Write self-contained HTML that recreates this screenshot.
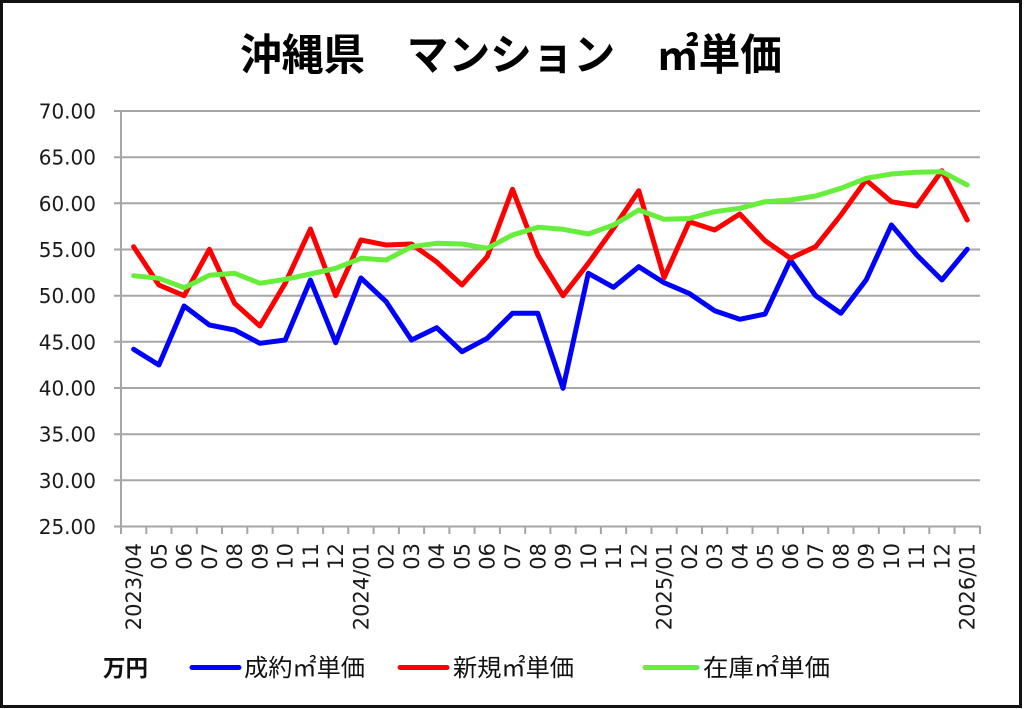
<!DOCTYPE html>
<html><head><meta charset="utf-8"><style>
html,body{margin:0;padding:0;background:#fff;}
svg{display:block;}
</style></head><body>
<svg width="1024" height="709" viewBox="0 0 1024 709" xmlns="http://www.w3.org/2000/svg">
<rect x="0" y="0" width="1024" height="709" fill="#fff"/>
<rect x="1.5" y="1.5" width="1019" height="705" fill="none" stroke="#111" stroke-width="3"/>
<text x="240" y="70" font-family="'Liberation Sans','Noto Sans CJK JP',sans-serif" font-weight="bold" font-size="43" fill="#000" textLength="542" lengthAdjust="spacingAndGlyphs">沖縄県　マンション　㎡単価</text>
<g stroke="#a6a6a6" stroke-width="2" fill="none">
<line x1="114" y1="111" x2="980" y2="111"/>
<line x1="114" y1="157.2" x2="980" y2="157.2"/>
<line x1="114" y1="203.3" x2="980" y2="203.3"/>
<line x1="114" y1="249.5" x2="980" y2="249.5"/>
<line x1="114" y1="295.7" x2="980" y2="295.7"/>
<line x1="114" y1="341.8" x2="980" y2="341.8"/>
<line x1="114" y1="388" x2="980" y2="388"/>
<line x1="114" y1="434.2" x2="980" y2="434.2"/>
<line x1="114" y1="480.3" x2="980" y2="480.3"/>
<line x1="114" y1="526.5" x2="980" y2="526.5"/>
<line x1="121" y1="111" x2="121" y2="526.5"/>
</g>
<g stroke="#a6a6a6" stroke-width="2" id="ticks">
<line x1="121" y1="526" x2="121" y2="534"/><line x1="146.3" y1="526" x2="146.3" y2="534"/><line x1="171.5" y1="526" x2="171.5" y2="534"/><line x1="196.8" y1="526" x2="196.8" y2="534"/><line x1="222" y1="526" x2="222" y2="534"/><line x1="247.3" y1="526" x2="247.3" y2="534"/><line x1="272.6" y1="526" x2="272.6" y2="534"/><line x1="297.8" y1="526" x2="297.8" y2="534"/><line x1="323.1" y1="526" x2="323.1" y2="534"/><line x1="348.3" y1="526" x2="348.3" y2="534"/><line x1="373.6" y1="526" x2="373.6" y2="534"/><line x1="398.9" y1="526" x2="398.9" y2="534"/><line x1="424.1" y1="526" x2="424.1" y2="534"/><line x1="449.4" y1="526" x2="449.4" y2="534"/><line x1="474.6" y1="526" x2="474.6" y2="534"/><line x1="499.9" y1="526" x2="499.9" y2="534"/><line x1="525.2" y1="526" x2="525.2" y2="534"/><line x1="550.4" y1="526" x2="550.4" y2="534"/><line x1="575.7" y1="526" x2="575.7" y2="534"/><line x1="600.9" y1="526" x2="600.9" y2="534"/><line x1="626.2" y1="526" x2="626.2" y2="534"/><line x1="651.5" y1="526" x2="651.5" y2="534"/><line x1="676.7" y1="526" x2="676.7" y2="534"/><line x1="702" y1="526" x2="702" y2="534"/><line x1="727.2" y1="526" x2="727.2" y2="534"/><line x1="752.5" y1="526" x2="752.5" y2="534"/><line x1="777.8" y1="526" x2="777.8" y2="534"/><line x1="803" y1="526" x2="803" y2="534"/><line x1="828.3" y1="526" x2="828.3" y2="534"/><line x1="853.5" y1="526" x2="853.5" y2="534"/><line x1="878.8" y1="526" x2="878.8" y2="534"/><line x1="904.1" y1="526" x2="904.1" y2="534"/><line x1="929.3" y1="526" x2="929.3" y2="534"/><line x1="954.6" y1="526" x2="954.6" y2="534"/><line x1="980" y1="526" x2="980" y2="534"/>
</g>
<g font-family="'DejaVu Sans',sans-serif" font-size="20" fill="#1a1a1a" text-anchor="end">
<text x="96" y="118.5">70.00</text>
<text x="96" y="164.7">65.00</text>
<text x="96" y="210.8">60.00</text>
<text x="96" y="257">55.00</text>
<text x="96" y="303.2">50.00</text>
<text x="96" y="349.3">45.00</text>
<text x="96" y="395.5">40.00</text>
<text x="96" y="441.7">35.00</text>
<text x="96" y="487.8">30.00</text>
<text x="96" y="534">25.00</text>
</g>
<g font-family="'DejaVu Sans',sans-serif" font-size="21" fill="#1a1a1a" text-anchor="end">
<text transform="translate(141.1,543) rotate(-90)">2023/04</text>
<text transform="translate(166.4,543) rotate(-90)">05</text>
<text transform="translate(191.6,543) rotate(-90)">06</text>
<text transform="translate(216.9,543) rotate(-90)">07</text>
<text transform="translate(242.1,543) rotate(-90)">08</text>
<text transform="translate(267.4,543) rotate(-90)">09</text>
<text transform="translate(292.7,543) rotate(-90)">10</text>
<text transform="translate(317.9,543) rotate(-90)">11</text>
<text transform="translate(343.2,543) rotate(-90)">12</text>
<text transform="translate(368.4,543) rotate(-90)">2024/01</text>
<text transform="translate(393.7,543) rotate(-90)">02</text>
<text transform="translate(419,543) rotate(-90)">03</text>
<text transform="translate(444.2,543) rotate(-90)">04</text>
<text transform="translate(469.5,543) rotate(-90)">05</text>
<text transform="translate(494.7,543) rotate(-90)">06</text>
<text transform="translate(520,543) rotate(-90)">07</text>
<text transform="translate(545.3,543) rotate(-90)">08</text>
<text transform="translate(570.5,543) rotate(-90)">09</text>
<text transform="translate(595.8,543) rotate(-90)">10</text>
<text transform="translate(621,543) rotate(-90)">11</text>
<text transform="translate(646.3,543) rotate(-90)">12</text>
<text transform="translate(671.6,543) rotate(-90)">2025/01</text>
<text transform="translate(696.8,543) rotate(-90)">02</text>
<text transform="translate(722.1,543) rotate(-90)">03</text>
<text transform="translate(747.3,543) rotate(-90)">04</text>
<text transform="translate(772.6,543) rotate(-90)">05</text>
<text transform="translate(797.9,543) rotate(-90)">06</text>
<text transform="translate(823.1,543) rotate(-90)">07</text>
<text transform="translate(848.4,543) rotate(-90)">08</text>
<text transform="translate(873.6,543) rotate(-90)">09</text>
<text transform="translate(898.9,543) rotate(-90)">10</text>
<text transform="translate(924.2,543) rotate(-90)">11</text>
<text transform="translate(949.4,543) rotate(-90)">12</text>
<text transform="translate(974.7,543) rotate(-90)">2026/01</text>
</g>
<g fill="none" stroke-width="5" stroke-linejoin="round" stroke-linecap="round">
<polyline stroke="#0000ff" points="133.6,349.3 158.9,365 184.1,306 209.4,325 234.6,330 259.9,343.3 285.2,340 310.4,280 335.7,342.7 360.9,278 386.2,301.7 411.5,340 436.7,327.7 462,351.7 487.2,338.3 512.5,313.3 537.8,313.3 563,388.3 588.3,273.3 613.5,287.3 638.8,266.7 664.1,282.7 689.3,293.5 714.6,310.7 739.8,319.3 765.1,314 790.4,260 815.6,295.7 840.9,313.3 866.1,280 891.4,225 916.7,255 941.9,280 967.2,249.3"/>
<polyline stroke="#ff0000" points="133.6,246.7 158.9,285 184.1,295.7 209.4,249.3 234.6,303.3 259.9,326 285.2,283.3 310.4,229 335.7,295.7 360.9,240 386.2,245 411.5,244 436.7,262 462,285 487.2,256.7 512.5,189.3 537.8,255 563,295.7 588.3,263.3 613.5,228.3 638.8,190.7 664.1,277.7 689.3,221.7 714.6,230 739.8,214 765.1,240.7 790.4,258.3 815.6,246.7 840.9,215 866.1,180 891.4,201.7 916.7,206 941.9,170.7 967.2,220"/>
<polyline stroke="#66ee3a" points="133.6,275.7 158.9,278.3 184.1,287.7 209.4,275.3 234.6,273.3 259.9,283.3 285.2,279.3 310.4,274 335.7,268.3 360.9,258.3 386.2,260 411.5,246.7 436.7,243.3 462,244 487.2,248.3 512.5,235 537.8,227.3 563,229.3 588.3,234 613.5,225 638.8,210 664.1,219.3 689.3,218.5 714.6,211.7 739.8,208.3 765.1,201.7 790.4,200 815.6,196 840.9,188.3 866.1,178.3 891.4,174 916.7,172.3 941.9,171.7 967.2,185"/>
</g>
<text x="103" y="676" font-family="'Liberation Sans','Noto Sans CJK JP',sans-serif" font-weight="bold" font-size="23" fill="#111" textLength="45" lengthAdjust="spacingAndGlyphs">万円</text>
<g stroke-width="5" stroke-linecap="round">
<line x1="192" y1="667.5" x2="239" y2="667.5" stroke="#0000ff"/>
<line x1="400" y1="667.5" x2="447" y2="667.5" stroke="#ff0000"/>
<line x1="645" y1="667.5" x2="697" y2="667.5" stroke="#66ee3a"/>
</g>
<g font-family="'Liberation Sans','Noto Sans CJK JP',sans-serif" font-size="24" fill="#111">
<text x="244" y="676" textLength="121" lengthAdjust="spacingAndGlyphs">成約㎡単価</text>
<text x="453" y="676" textLength="121" lengthAdjust="spacingAndGlyphs">新規㎡単価</text>
<text x="703" y="676" textLength="127" lengthAdjust="spacingAndGlyphs">在庫㎡単価</text>
</g>
</svg>
</body></html>
